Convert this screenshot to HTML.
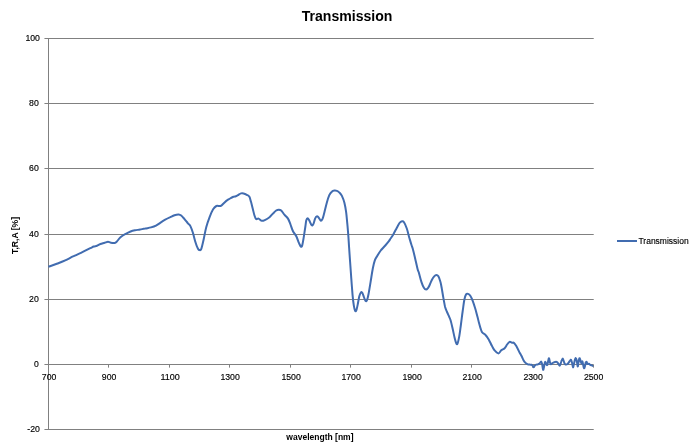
<!DOCTYPE html>
<html><head><meta charset="utf-8"><title>Transmission</title>
<style>
html,body{margin:0;padding:0;background:#fff;}
svg{display:block;will-change:transform;}
text{font-family:"Liberation Sans",sans-serif;fill:#000;}
</style></head><body>
<svg width="693" height="447" viewBox="0 0 693 447">
<rect width="693" height="447" fill="#ffffff"/>
<g shape-rendering="crispEdges" fill="#808080">
<rect x="45" y="38" width="548" height="1"/>
<rect x="593" y="38" width="1" height="1" fill="#a4a4a4"/>
<rect x="44" y="38" width="1" height="1" fill="#b8b8b8"/>
<rect x="45" y="103" width="548" height="1"/>
<rect x="593" y="103" width="1" height="1" fill="#a4a4a4"/>
<rect x="44" y="103" width="1" height="1" fill="#b8b8b8"/>
<rect x="45" y="168" width="548" height="1"/>
<rect x="593" y="168" width="1" height="1" fill="#a4a4a4"/>
<rect x="44" y="168" width="1" height="1" fill="#b8b8b8"/>
<rect x="45" y="234" width="548" height="1"/>
<rect x="593" y="234" width="1" height="1" fill="#a4a4a4"/>
<rect x="44" y="234" width="1" height="1" fill="#b8b8b8"/>
<rect x="45" y="299" width="548" height="1"/>
<rect x="593" y="299" width="1" height="1" fill="#a4a4a4"/>
<rect x="44" y="299" width="1" height="1" fill="#b8b8b8"/>
<rect x="45" y="364" width="548" height="1"/>
<rect x="593" y="364" width="1" height="1" fill="#a4a4a4"/>
<rect x="44" y="364" width="1" height="1" fill="#b8b8b8"/>
<rect x="45" y="429" width="548" height="1"/>
<rect x="593" y="429" width="1" height="1" fill="#a4a4a4"/>
<rect x="44" y="429" width="1" height="1" fill="#b8b8b8"/>
<rect x="48" y="38" width="1" height="392"/>
<rect x="108" y="365" width="1" height="2"/>
<rect x="108" y="367" width="1" height="1" fill="#b0b0b0"/>
<rect x="169" y="365" width="1" height="2"/>
<rect x="169" y="367" width="1" height="1" fill="#b0b0b0"/>
<rect x="229" y="365" width="1" height="2"/>
<rect x="229" y="367" width="1" height="1" fill="#b0b0b0"/>
<rect x="290" y="365" width="1" height="2"/>
<rect x="290" y="367" width="1" height="1" fill="#b0b0b0"/>
<rect x="350" y="365" width="1" height="2"/>
<rect x="350" y="367" width="1" height="1" fill="#b0b0b0"/>
<rect x="411" y="365" width="1" height="2"/>
<rect x="411" y="367" width="1" height="1" fill="#b0b0b0"/>
<rect x="471" y="365" width="1" height="2"/>
<rect x="471" y="367" width="1" height="1" fill="#b0b0b0"/>
<rect x="532" y="365" width="1" height="2"/>
<rect x="532" y="367" width="1" height="1" fill="#b0b0b0"/>
<rect x="593" y="365" width="1" height="2"/>
<rect x="593" y="367" width="1" height="1" fill="#b0b0b0"/>
</g>
<g class="t" font-size="8.4" text-anchor="end" stroke="#000" stroke-width="0.14">
<text x="39.9" y="40.7" textLength="14.5" lengthAdjust="spacingAndGlyphs">100</text>
<text x="38.8" y="105.7" textLength="9.7" lengthAdjust="spacingAndGlyphs">80</text>
<text x="38.8" y="170.7" textLength="9.7" lengthAdjust="spacingAndGlyphs">60</text>
<text x="38.8" y="236.7" textLength="9.7" lengthAdjust="spacingAndGlyphs">40</text>
<text x="38.8" y="301.7" textLength="9.7" lengthAdjust="spacingAndGlyphs">20</text>
<text x="38.8" y="366.7" textLength="4.8" lengthAdjust="spacingAndGlyphs">0</text>
<text x="39.9" y="431.7" textLength="12.6" lengthAdjust="spacingAndGlyphs">-20</text>
</g>
<g class="t" font-size="8.4" text-anchor="middle" stroke="#000" stroke-width="0.14">
<text x="49.1" y="379.9" textLength="14.5" lengthAdjust="spacingAndGlyphs">700</text>
<text x="109.1" y="379.9" textLength="14.5" lengthAdjust="spacingAndGlyphs">900</text>
<text x="170.1" y="379.9" textLength="19.4" lengthAdjust="spacingAndGlyphs">1100</text>
<text x="230.1" y="379.9" textLength="19.4" lengthAdjust="spacingAndGlyphs">1300</text>
<text x="291.1" y="379.9" textLength="19.4" lengthAdjust="spacingAndGlyphs">1500</text>
<text x="351.1" y="379.9" textLength="19.4" lengthAdjust="spacingAndGlyphs">1700</text>
<text x="412.1" y="379.9" textLength="19.4" lengthAdjust="spacingAndGlyphs">1900</text>
<text x="472.1" y="379.9" textLength="19.4" lengthAdjust="spacingAndGlyphs">2100</text>
<text x="533.1" y="379.9" textLength="19.4" lengthAdjust="spacingAndGlyphs">2300</text>
<text x="593.6" y="379.9" textLength="19.4" lengthAdjust="spacingAndGlyphs">2500</text>
</g>
<path fill="none" stroke="#416cb0" stroke-width="2.0" stroke-linejoin="round" stroke-linecap="butt" d="M48.4,266.8C49.8,266.3 54.0,264.9 56.8,263.8C59.6,262.7 62.4,261.7 65.2,260.4C68.0,259.1 70.8,257.5 73.6,256.2C76.4,254.8 79.1,253.6 81.9,252.3C84.7,251.0 88.3,249.2 90.3,248.2C92.3,247.2 92.6,246.9 93.7,246.5C94.8,246.1 95.9,246.2 97.0,245.8C98.1,245.4 99.1,244.5 100.4,244.0C101.7,243.5 103.3,243.2 104.6,242.8C105.9,242.4 107.0,241.8 108.0,241.8C109.0,241.8 109.4,242.4 110.5,242.6C111.6,242.8 113.6,243.2 114.7,243.0C115.8,242.8 116.2,242.1 117.2,241.1C118.2,240.1 119.2,238.3 120.5,237.2C121.8,236.1 123.0,235.3 124.7,234.4C126.4,233.5 128.9,232.2 130.6,231.5C132.3,230.8 133.4,230.6 135.0,230.3C136.6,230.0 138.4,229.8 140.1,229.5C141.8,229.2 143.3,228.9 145.1,228.6C146.9,228.2 149.2,227.9 151.0,227.4C152.8,226.9 154.5,226.4 156.0,225.6C157.5,224.8 158.7,223.8 160.2,222.8C161.7,221.8 163.5,220.6 165.2,219.7C166.9,218.8 168.8,217.9 170.3,217.2C171.9,216.4 173.1,215.7 174.5,215.2C175.9,214.7 177.6,214.3 178.7,214.4C179.8,214.5 180.2,214.7 181.2,215.5C182.2,216.3 183.4,217.8 184.5,219.1C185.6,220.4 186.9,222.1 187.9,223.3C188.9,224.5 189.6,224.5 190.4,226.1C191.2,227.7 192.1,230.2 192.9,232.8C193.7,235.5 194.6,239.3 195.4,242.0C196.2,244.7 197.3,247.5 198.0,248.8C198.7,250.2 199.0,250.1 199.6,250.1C200.2,250.1 200.6,250.7 201.3,248.8C202.0,246.9 203.0,242.3 203.8,238.7C204.6,235.0 205.3,230.5 206.3,226.9C207.3,223.3 208.6,219.8 209.7,216.9C210.8,214.0 212.0,211.1 213.1,209.3C214.2,207.5 215.2,206.6 216.4,206.0C217.7,205.4 219.3,206.5 220.6,206.0C221.9,205.5 222.9,204.0 224.0,203.0C225.1,202.0 226.3,200.8 227.3,200.1C228.3,199.3 229.1,199.1 230.1,198.5C231.1,197.9 232.4,197.2 233.4,196.8C234.4,196.4 235.1,196.6 235.9,196.3C236.8,196.0 237.7,195.3 238.5,194.8C239.3,194.3 240.2,193.6 241.0,193.4C241.8,193.2 242.5,193.2 243.5,193.4C244.5,193.6 245.8,194.2 246.8,194.8C247.8,195.4 248.7,195.6 249.4,196.8C250.1,198.0 250.4,199.9 251.0,201.8C251.6,203.8 252.1,206.3 252.7,208.5C253.3,210.7 253.8,213.4 254.4,215.2C255.0,217.0 255.4,218.5 256.1,219.1C256.8,219.7 257.6,218.3 258.6,218.6C259.6,218.9 260.8,220.6 261.9,220.8C263.0,221.0 264.0,220.4 265.3,219.8C266.6,219.2 268.2,218.2 269.5,217.2C270.8,216.2 271.8,214.7 272.9,213.6C274.0,212.5 275.2,211.2 276.2,210.5C277.2,209.8 277.9,209.7 278.7,209.7C279.5,209.7 280.2,209.6 281.2,210.5C282.2,211.4 283.5,213.6 284.6,214.9C285.7,216.2 287.0,217.0 288.0,218.6C289.0,220.2 289.7,222.4 290.5,224.5C291.3,226.6 292.0,229.2 293.0,231.2C294.0,233.1 295.3,234.2 296.3,236.2C297.3,238.1 298.1,241.2 298.9,242.9C299.7,244.6 300.3,246.2 300.9,246.6C301.4,247.0 301.7,247.1 302.2,245.4C302.7,243.7 303.4,239.3 303.9,236.2C304.4,233.1 304.9,229.7 305.3,227.0C305.7,224.3 305.9,221.8 306.3,220.3C306.7,218.9 307.0,218.3 307.5,218.3C308.0,218.3 308.5,219.1 309.2,220.3C309.9,221.5 311.0,224.7 311.7,225.3C312.4,225.9 312.8,225.1 313.4,224.0C314.0,222.9 314.6,219.9 315.1,218.6C315.7,217.3 316.1,216.6 316.7,216.4C317.2,216.2 317.7,216.5 318.4,217.2C319.1,217.9 320.2,220.6 320.9,220.8C321.6,221.0 322.0,219.9 322.6,218.6C323.2,217.2 323.6,215.3 324.3,212.7C325.0,210.0 326.0,205.6 326.8,202.7C327.6,199.8 328.5,196.9 329.3,195.1C330.1,193.3 331.0,192.4 331.8,191.7C332.6,190.9 333.5,190.7 334.4,190.6C335.2,190.5 336.1,190.6 336.9,190.9C337.7,191.2 338.6,191.8 339.4,192.6C340.2,193.4 341.1,194.2 341.9,195.9C342.7,197.6 343.7,200.0 344.4,202.7C345.1,205.4 345.6,208.4 346.1,211.9C346.6,215.4 346.9,219.7 347.3,223.6C347.7,227.5 348.0,231.7 348.3,235.4C348.6,239.1 348.7,241.6 349.0,246.0C349.3,250.4 349.7,256.4 350.1,261.8C350.5,267.2 350.9,273.0 351.3,278.6C351.7,284.2 352.2,290.8 352.6,295.3C353.0,299.8 353.4,302.8 353.8,305.4C354.2,308.0 354.7,310.0 355.1,310.8C355.5,311.6 355.9,311.4 356.3,310.4C356.7,309.4 357.2,307.0 357.7,304.6C358.2,302.2 358.8,298.2 359.3,296.2C359.9,294.1 360.5,292.9 361.0,292.3C361.5,291.7 361.8,292.0 362.3,292.8C362.8,293.6 363.4,295.6 363.9,297.0C364.4,298.4 365.0,300.3 365.5,300.9C366.0,301.5 366.4,301.6 366.9,300.4C367.4,299.2 368.0,296.8 368.6,293.7C369.2,290.6 369.9,286.1 370.6,281.9C371.3,277.7 372.1,272.1 372.8,268.5C373.5,264.9 374.1,262.3 374.9,260.1C375.7,257.9 376.8,256.8 377.8,255.1C378.8,253.4 379.9,251.6 381.1,250.0C382.4,248.4 384.0,247.0 385.3,245.5C386.6,244.0 388.1,242.2 388.9,241.2C389.7,240.2 389.3,240.5 390.0,239.4C390.7,238.3 392.2,236.3 393.3,234.4C394.4,232.5 395.6,230.1 396.6,228.2C397.6,226.3 398.6,224.2 399.5,223.0C400.4,221.8 401.2,221.4 402.0,221.3C402.8,221.2 403.2,221.0 404.0,222.2C404.8,223.4 405.9,225.9 406.8,228.5C407.7,231.1 408.5,234.9 409.3,237.7C410.1,240.4 410.9,243.2 411.5,245.0C412.1,246.8 412.1,246.3 412.7,248.6C413.3,250.9 414.4,255.2 415.2,258.7C416.0,262.2 417.1,267.3 417.7,269.6C418.3,271.9 418.3,270.6 418.9,272.7C419.5,274.8 420.6,279.4 421.4,281.9C422.2,284.4 423.1,286.5 423.9,287.8C424.7,289.1 425.4,289.5 426.1,289.5C426.8,289.5 427.6,288.4 428.1,287.8C428.6,287.2 428.6,287.3 429.2,286.0C429.8,284.7 430.9,281.8 431.7,280.2C432.5,278.6 433.4,277.2 434.2,276.3C435.0,275.4 435.7,275.0 436.4,275.0C437.1,275.0 437.7,275.2 438.4,276.3C439.1,277.4 439.8,279.8 440.4,281.8C441.0,283.9 441.3,285.8 441.8,288.6C442.3,291.4 442.9,295.5 443.5,298.6C444.1,301.7 444.6,304.9 445.1,307.0C445.7,309.1 446.1,309.8 446.8,311.5C447.5,313.2 448.7,315.7 449.3,317.1C449.9,318.5 449.9,318.1 450.5,320.0C451.1,321.9 451.9,325.4 452.6,328.5C453.3,331.6 454.2,336.1 454.8,338.6C455.4,341.1 455.9,342.8 456.4,343.6C456.9,344.4 457.1,344.6 457.6,343.3C458.1,342.1 458.7,339.3 459.3,336.1C459.9,332.9 460.4,328.2 461.0,324.0C461.6,319.8 462.1,315.1 462.7,311.0C463.3,306.9 463.8,302.3 464.4,299.5C465.0,296.7 465.5,295.3 466.1,294.4C466.7,293.5 467.4,293.7 468.1,293.9C468.8,294.1 469.5,294.6 470.3,295.8C471.1,297.0 472.0,299.0 472.8,301.1C473.6,303.2 474.5,306.1 475.3,308.7C476.1,311.3 476.7,313.9 477.4,316.5C478.1,319.1 478.6,321.7 479.4,324.3C480.1,326.9 480.9,330.2 481.9,331.9C482.9,333.6 484.2,333.4 485.3,334.7C486.4,335.9 487.6,337.5 488.7,339.4C489.8,341.3 491.0,344.3 492.0,346.1C493.0,347.9 493.4,349.1 494.5,350.3C495.6,351.5 497.3,353.4 498.4,353.4C499.5,353.4 500.2,351.2 501.2,350.3C502.2,349.4 503.6,349.2 504.6,348.2C505.6,347.2 506.3,345.6 507.1,344.5C507.9,343.4 508.8,342.2 509.6,341.9C510.4,341.6 511.4,342.6 512.1,342.8C512.8,343.0 513.1,342.2 513.8,342.8C514.5,343.4 515.3,344.4 516.3,346.1C517.3,347.8 519.1,351.7 519.7,352.9C520.3,354.1 519.7,352.6 520.0,353.2C520.3,353.8 521.1,355.1 521.7,356.3C522.3,357.5 522.9,359.2 523.5,360.3C524.1,361.4 524.8,362.2 525.5,362.9C526.2,363.6 527.1,364.0 527.8,364.3C528.5,364.6 528.9,364.5 529.5,364.6C530.1,364.7 531.0,364.6 531.5,364.8C532.0,365.0 532.4,365.4 532.8,365.8C533.2,366.2 533.4,367.2 533.7,367.2C534.0,367.2 534.4,366.0 534.8,365.6C535.2,365.2 535.8,364.8 536.3,364.6C536.8,364.4 537.5,364.6 538.0,364.4C538.5,364.2 539.0,364.0 539.5,363.5C540.0,363.0 540.8,361.4 541.2,361.6C541.7,361.8 541.9,363.1 542.2,364.5C542.5,365.9 542.8,369.4 543.1,369.8C543.4,370.2 543.7,368.3 544.0,367.0C544.3,365.7 544.6,362.2 545.1,361.9C545.6,361.6 546.5,365.0 546.9,365.2C547.3,365.4 547.5,364.2 547.8,363.0C548.1,361.8 548.5,358.4 548.9,358.2C549.2,358.0 549.6,361.0 549.9,362.0C550.2,363.0 550.3,364.2 550.9,364.3C551.5,364.4 552.3,363.0 553.3,362.6C554.3,362.2 555.8,361.7 556.7,361.9C557.6,362.1 558.0,363.4 558.5,364.0C559.0,364.6 559.2,365.7 559.6,365.7C560.0,365.7 560.3,364.7 560.6,364.0C560.9,363.3 560.9,362.2 561.3,361.3C561.6,360.4 562.3,358.3 562.7,358.4C563.1,358.5 563.5,360.8 563.9,361.7C564.3,362.6 564.4,363.7 565.0,364.1C565.6,364.5 566.8,364.5 567.4,364.2C568.0,363.9 568.3,363.0 568.8,362.4C569.3,361.8 569.8,360.8 570.2,360.4C570.6,360.0 570.8,359.4 571.1,359.9C571.4,360.3 571.8,361.9 572.1,363.1C572.4,364.3 572.7,367.1 573.0,367.3C573.3,367.5 573.6,365.3 573.9,364.1C574.2,362.9 574.6,360.9 574.9,359.9C575.2,358.9 575.5,358.0 575.8,358.1C576.1,358.2 576.4,358.9 576.7,360.3C577.0,361.7 577.4,365.9 577.7,366.4C578.0,366.9 578.1,364.4 578.4,363.1C578.7,361.8 579.0,359.2 579.3,358.5C579.6,357.8 579.7,358.3 580.0,358.9C580.3,359.5 580.7,361.4 581.0,362.2C581.3,363.0 581.4,363.6 581.6,363.5C581.8,363.4 582.2,361.2 582.4,361.3C582.6,361.4 582.7,363.0 583.0,364.1C583.3,365.2 583.7,367.8 584.0,368.2C584.3,368.6 584.6,367.3 584.9,366.4C585.2,365.5 585.4,363.5 585.7,362.7C586.0,361.9 586.3,361.6 586.6,361.8C586.9,362.0 587.1,363.7 587.5,364.0C587.9,364.3 588.4,363.6 588.9,363.7C589.4,363.8 589.8,364.6 590.3,364.9C590.8,365.2 591.3,365.2 591.8,365.4C592.3,365.6 593.0,366.1 593.2,366.2"/>
<text x="301.7" y="20.9" font-size="15.5" font-weight="bold" textLength="90.8" lengthAdjust="spacingAndGlyphs">Transmission</text>
<text x="286.3" y="439.8" font-size="8.5" font-weight="bold" textLength="67.2" lengthAdjust="spacingAndGlyphs">wavelength [nm]</text>
<text transform="translate(18.3,253.9) rotate(-90)" font-size="8.3" font-weight="bold" textLength="37" lengthAdjust="spacingAndGlyphs">T,R,A [%]</text>
<rect x="617" y="240" width="20" height="2" fill="#416cb0" shape-rendering="crispEdges"/>
<text x="638.5" y="243.9" font-size="8.3" stroke="#000" stroke-width="0.15" textLength="50.1" lengthAdjust="spacingAndGlyphs">Transmission</text>
</svg></body></html>
